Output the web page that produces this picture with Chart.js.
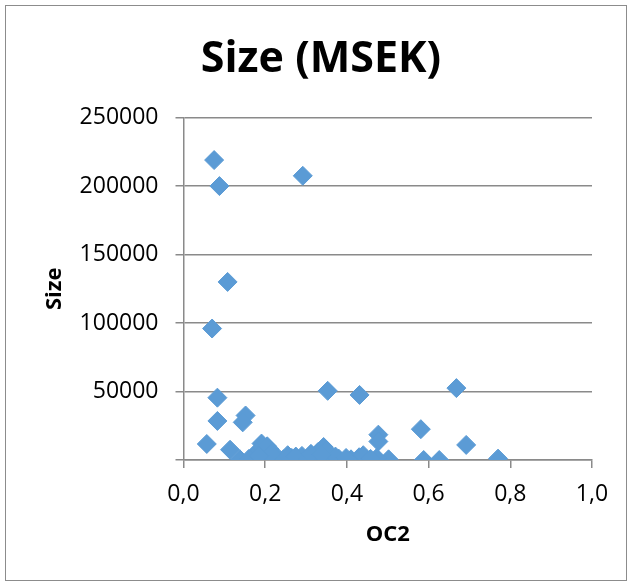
<!DOCTYPE html>
<html>
<head>
<meta charset="utf-8">
<script src="https://cdn.jsdelivr.net/npm/chart.js@4"></script>
<style>
  html, body { margin: 0; padding: 0; background: #fff; }
  #frame {
    position: absolute; left: 5px; top: 5px;
    width: 620px; height: 574px;
    border: 1px solid #8c8c8c;
  }
</style>
</head>
<body>
<div id="frame"><canvas id="sizeChart" width="620" height="574"></canvas></div>
<script>
// OC2 against company size in MSEK
const oc2 = [
  0.075, 0.088, 0.292, 0.108, 0.070, 0.083, 0.083, 0.152, 0.145, 0.353,
  0.431, 0.668, 0.057, 0.114, 0.477, 0.477, 0.581, 0.692, 0.770, 0.588,
  0.626, 0.502, 0.473, 0.138, 0.191, 0.180, 0.210, 0.220, 0.200, 0.245,
  0.265, 0.290, 0.343, 0.330, 0.320, 0.355, 0.360, 0.380, 0.410, 0.430,
  0.445, 0.170, 0.230, 0.350, 0.255, 0.275, 0.305, 0.312, 0.372, 0.398,
  0.440, 0.458, 0.160, 0.205, 0.215, 0.338, 0.185
];
const size = [
  219000, 200000, 207500, 130000, 96000, 45500, 28500, 32500, 27500, 50500,
  47500, 52500, 11700, 7500, 18500, 13500, 22500, 11000, 1000, 0,
  0, 500, 1500, 500, 12000, 6000, 8000, 3000, 1000, 500,
  1500, 3000, 9500, 6000, 1500, 3500, 500, 1000, 500, 2000,
  1000, 2000, 2000, 7000, 3500, 2500, 800, 4500, 2500, 1500,
  3500, 800, 800, 10000, 4500, 4000, 3000
];
const xTicks = [0, 0.2, 0.4, 0.6, 0.8, 1.0];
const yTicks = [0, 50000, 100000, 150000, 200000, 250000];

const FONT = "'Open Sans', 'Liberation Sans', sans-serif";
const GRID = '#8a8a8a';

const points = oc2.map((x, i) => ({ x: x, y: size[i] }));

new Chart(document.getElementById('sizeChart'), {
  type: 'scatter',
  data: {
    datasets: [{
      label: 'Size',
      data: points,
      pointStyle: 'rectRot',
      pointRadius: 9.5,
      pointHoverRadius: 9.5,
      backgroundColor: '#5b9bd5',
      borderColor: '#5b9bd5',
      borderWidth: 1
    }]
  },
  options: {
    responsive: false,
    animation: false,
    // uneven side padding keeps the title a little right of the canvas centre
    layout: { padding: { left: 44, right: 34, top: 0, bottom: 0 } },
    plugins: {
      legend: { display: false },
      tooltip: { enabled: false },
      title: {
        display: true,
        text: 'Size (MSEK)',
        color: '#000',
        font: { family: FONT, size: 43, weight: 'bold' },
        padding: { top: 28, bottom: 32 }
      }
    },
    scales: {
      x: {
        type: 'linear',
        min: 0, max: 1,
        afterBuildTicks: s => { s.ticks = xTicks.map(v => ({ value: v })); },
        afterFit: s => { s.height = 120; },
        ticks: {
          color: '#000',
          padding: 13,
          font: { family: FONT, size: 23 },
          callback: v => v.toFixed(1).replace('.', ',')
        },
        grid: { drawOnChartArea: false, drawTicks: true, tickLength: 8, color: GRID, lineWidth: 1.5 },
        border: { color: GRID, width: 1.5 },
        title: {
          display: true,
          text: 'OC2',
          color: '#000',
          font: { family: FONT, size: 22, weight: 'bold' },
          padding: { top: 0, bottom: 31.8 }
        }
      },
      y: {
        type: 'linear',
        min: 0, max: 250000,
        afterBuildTicks: s => { s.ticks = yTicks.map(v => ({ value: v })); },
        afterFit: s => { s.width = 133.5; },
        ticks: {
          color: '#000',
          padding: 17,
          font: { family: FONT, size: 23 },
          callback: v => (v === 0 ? '' : String(v))
        },
        grid: { drawTicks: true, tickLength: 8, color: GRID, lineWidth: 1.5 },
        border: { color: GRID, width: 1.5 },
        title: {
          display: true,
          text: 'Size',
          color: '#000',
          font: { family: FONT, size: 22, weight: 'bold' },
          padding: { top: -8.2, bottom: 0 }
        }
      }
    }
  }
});
</script>
</body>
</html>
